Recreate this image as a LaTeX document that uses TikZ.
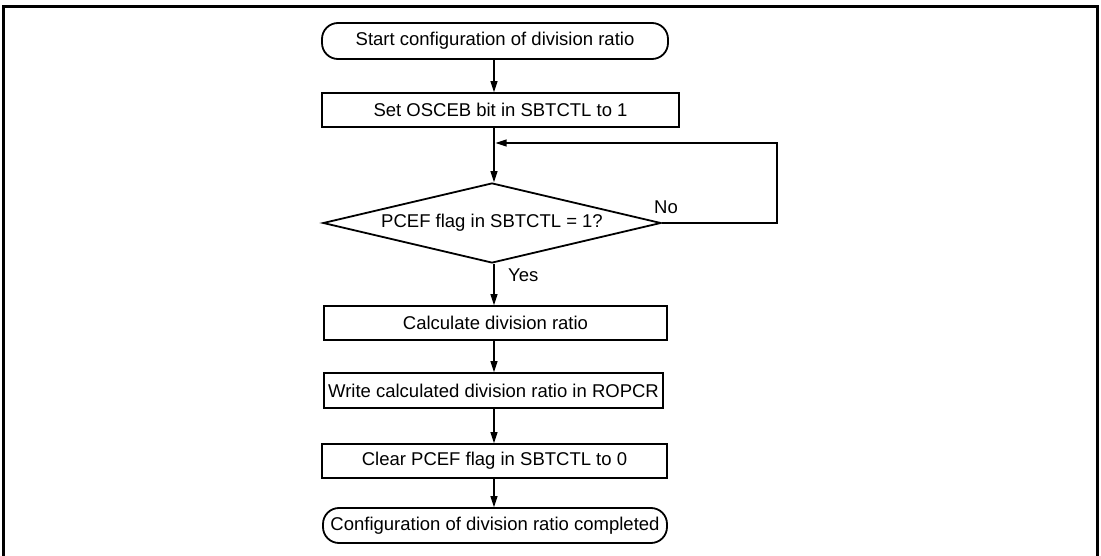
\documentclass[tikz,border=0pt]{standalone}
\usepackage{fontspec}
\setmainfont{Liberation Sans}
\usetikzlibrary{shapes.geometric,arrows.meta}
\begin{document}
\begin{tikzpicture}[x=1pt,y=-1pt,
  txt/.style={font=\fontsize{18.5}{22}\selectfont},
  box/.style={draw, line width=1.8pt, inner sep=0pt, txt},
  term/.style={box, rounded corners=16pt},
  conn/.style={line width=1.1pt, -{Triangle[length=11pt,width=7pt]}},
  lbl/.style={txt, inner sep=0pt}]
\useasboundingbox (0,0) rectangle (1101,556);
\draw[line width=2.2pt] (3.5,560) -- (3.5,6.5) -- (1097.5,6.5) -- (1097.5,560);
\coordinate (mx) at (494,0);
\node[term, minimum width=346pt, minimum height=36pt] (start) at (495,41) {Start configuration of division ratio};
\node[box, minimum width=357pt, minimum height=34pt] (set) at (500.5,110) {Set OSCEB bit in SBTCTL to 1};
\node[diamond, draw, line width=1.8pt, aspect=4.2, minimum width=338pt, minimum height=80pt, inner sep=0pt, txt] (dec) at (492,223) {PCEF flag in SBTCTL = 1?};
\node[box, minimum width=343pt, minimum height=34pt] (calc) at (495.5,323) {Calculate division ratio};
\node[box, minimum width=339pt, minimum height=35pt] (write) at (493.5,390.5) {Write calculated division ratio in ROPCR};
\node[box, minimum width=345pt, minimum height=34pt] (clear) at (494.5,461) {Clear PCEF flag in SBTCTL to 0};
\node[term, minimum width=344pt, minimum height=35pt] (end) at (495,525.5) {Configuration of division ratio completed};
\node[lbl, anchor=base west] (no) at (654,214) {No};
\node[lbl, anchor=base west] (yes) at (508,282) {Yes};
\coordinate (fb) at (777,143);
\coordinate (fbend) at (495.5,143);
\draw[conn] (start.south -| mx) -- (set.north -| mx);
\draw[conn] (set.south -| mx) -- (dec.north -| mx);
\draw[conn] (dec.east) -| (fb) -- (fbend);
\draw[conn] (dec.south -| mx) -- (calc.north -| mx);
\draw[conn] (calc.south -| mx) -- (write.north -| mx);
\draw[conn] (write.south -| mx) -- (clear.north -| mx);
\draw[conn] (clear.south -| mx) -- (end.north -| mx);
\end{tikzpicture}
\end{document}
